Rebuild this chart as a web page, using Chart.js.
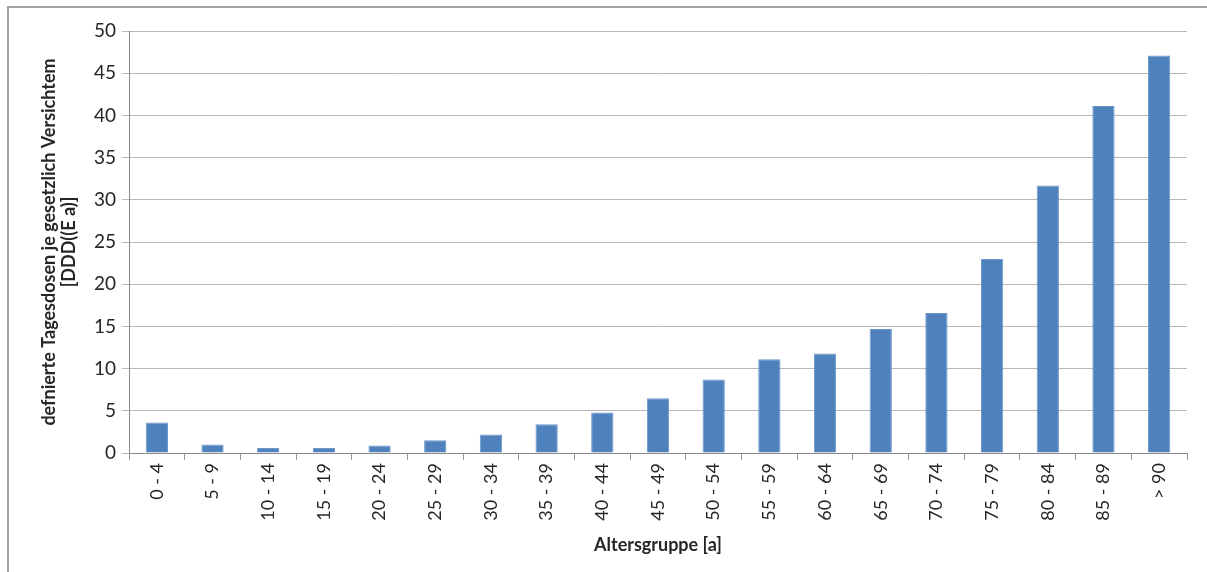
<!DOCTYPE html>
<html>
<head>
<meta charset="utf-8">
<script src="https://cdn.jsdelivr.net/npm/chart.js@4/dist/chart.umd.min.js"></script>
<style>
  body { margin: 0; background: #fff; }
  .frame { position: absolute; left: 7px; top: 6px; width: 1210px; height: 580px;
           border-left: 2px solid #a0a0a0; border-top: 2px solid #a0a0a0; }
  .wrap { position: absolute; left: 0; top: 0; width: 1207px; height: 572px; }
</style>
</head>
<body>
<div class="frame"></div>
<div class="wrap"><canvas id="myChart"></canvas></div>
<script>
const ageGroups = ['0 - 4','5 - 9','10 - 14','15 - 19','20 - 24','25 - 29','30 - 34','35 - 39','40 - 44',
                   '45 - 49','50 - 54','55 - 59','60 - 64','65 - 69','70 - 74','75 - 79','80 - 84','85 - 89','> 90'];
const dddValues = [3.6, 1.0, 0.6, 0.6, 0.9, 1.5, 2.2, 3.4, 4.8, 6.5, 8.7, 11.1, 11.8, 14.7, 16.6, 23.0, 31.7, 41.1, 47.1];
const yTitle = ['defnierte Tagesdosen je gesetzlich Versichtem', '[DDD((E a)]'];
const xTitle = 'Altersgruppe [a]';

const fontFam = 'Lato, "Open Sans", sans-serif';

const ctx = document.getElementById('myChart');
new Chart(ctx, {
  type: 'bar',
  data: {
    labels: ageGroups,
    datasets: [{
      data: dddValues,
      backgroundColor: '#4f81bd',
      borderColor: '#6a96cc',
      borderWidth: 1,
      barPercentage: 0.4,
      categoryPercentage: 1
    }]
  },
  options: {
    responsive: true,
    maintainAspectRatio: false,
    animation: false,
    layout: { padding: { left: 0, top: 31, right: 20, bottom: 0 } },
    plugins: { legend: { display: false }, tooltip: { enabled: false } },
    scales: {
      x: {
        afterFit: s => { s.height = 119; },
        grid: { drawOnChartArea: false, tickLength: 7, color: '#9a9a9a', offset: true },
        border: { color: '#8a8a8a' },
        ticks: { minRotation: 90, maxRotation: 90, color: '#262626', padding: 3,
                 font: { family: fontFam, size: 18 } },
        title: { display: true, text: xTitle, color: '#262626', padding: { top: 0, bottom: 16 },
                 font: { family: fontFam, size: 18, weight: 'bold' } }
      },
      y: {
        min: 0, max: 50,
        afterFit: s => { s.width = 129; },
        grid: { color: '#b8b8b8', tickLength: 7 },
        border: { color: '#8a8a8a' },
        ticks: { stepSize: 5, color: '#262626', padding: 6, font: { family: fontFam, size: 19 } },
        title: { display: true, text: yTitle, color: '#262626', padding: { top: 39, bottom: 0 },
                 font: { family: fontFam, size: 18, weight: 'bold', lineHeight: 1.12 } }
      }
    }
  }
});
</script>
</body>
</html>
